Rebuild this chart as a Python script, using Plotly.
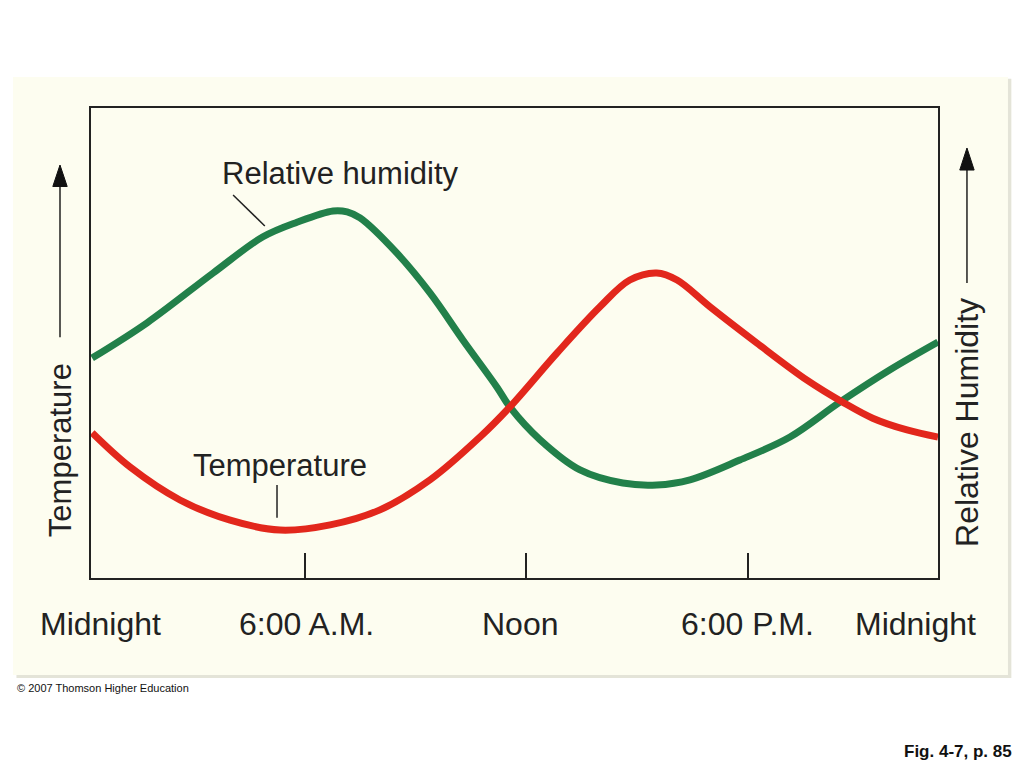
import plotly.graph_objects as go

# hours of the day (schematic axis) and values in arbitrary units 0-100
rh_hours = [0.23, 1.72, 3.51, 4.86, 5.78, 6.76, 7.14, 7.49, 8.49, 9.39, 10.28, 11.20,
            11.55, 12.37, 13.45, 14.61, 15.53, 16.43, 17.78, 19.14, 20.49, 21.85, 23.15]
rh_values = [46.8, 54.3, 64.9, 72.6, 75.7, 78.1, 77.9, 76.6, 69.1, 60.6, 50.6, 40.6,
             36.4, 29.4, 23.0, 20.2, 19.8, 20.9, 25.1, 30.0, 37.4, 44.3, 50.2]

temp_hours = [0.23, 1.26, 2.61, 3.97, 5.32, 6.68, 8.03, 9.39, 10.74, 11.55, 12.83,
              13.99, 14.80, 15.53, 16.08, 16.97, 18.24, 19.60, 20.57, 21.38, 22.31, 23.15]
temp_values = [30.9, 23.6, 16.6, 12.3, 10.2, 11.3, 14.5, 20.9, 30.0, 36.4, 47.9,
               57.7, 63.4, 64.9, 63.4, 57.7, 50.0, 42.1, 37.4, 34.0, 31.5, 30.0]

tick_hours = [6, 12, 18]
time_labels = ["Midnight", "6:00 A.M.", "Noon", "6:00 P.M.", "Midnight"]
label_hours = [0.45, 6.05, 11.85, 18.0, 22.55]

GREEN = "#22804a"
RED = "#e2271c"
CREAM = "#fdfdf0"
FONT = "Liberation Sans"
TXT = "#222222"

fig = go.Figure()
fig.add_trace(go.Scatter(x=rh_hours, y=rh_values, mode="lines", name="Relative humidity",
                         line=dict(color=GREEN, width=7, shape="spline", smoothing=1.0)))
fig.add_trace(go.Scatter(x=temp_hours, y=temp_values, mode="lines", name="Temperature",
                         line=dict(color=RED, width=7, shape="spline", smoothing=1.0)))

# cream panel with a faint shadow
fig.add_shape(type="rect", xref="paper", yref="paper", x0=-0.088, x1=1.0866, y0=-0.213, y1=1.062,
              fillcolor="#e4e4d8", line_width=0, layer="below")
fig.add_shape(type="rect", xref="paper", yref="paper", x0=-0.0921, x1=1.0826, y0=-0.2064, y1=1.066,
              fillcolor=CREAM, line_width=0, layer="below")

# leader lines for the curve labels
fig.add_shape(type="line", xref="x", yref="y", x0=4.05, y0=81.5, x1=4.91, y1=74.9,
              line=dict(color=TXT, width=1.5))
fig.add_shape(type="line", xref="x", yref="y", x0=5.24, y0=19.8, x1=5.24, y1=12.8,
              line=dict(color=TXT, width=1.5))


def up_arrow(x, y_tail, y_base, y_tip, half_w=0.0085):
    # thin shaft plus a narrow filled head, in paper coordinates
    fig.add_shape(type="line", xref="paper", yref="paper", x0=x, x1=x, y0=y_tail, y1=y_base,
                  line=dict(color="#111111", width=1.4))
    fig.add_shape(type="path", xref="paper", yref="paper",
                  path=f"M {x - half_w},{y_base} L {x + half_w},{y_base} L {x},{y_tip} Z",
                  fillcolor="#111111", line=dict(color="#111111", width=1))


up_arrow(-0.0366, 0.512, 0.833, 0.8787)
up_arrow(1.0342, 0.6277, 0.868, 0.9149)

ann = []
ann.append(dict(x=6.97, y=86.0, xref="x", yref="y", text="Relative humidity", showarrow=False,
                xanchor="center", yanchor="middle", font=dict(family=FONT, size=31, color=TXT)))
ann.append(dict(x=5.32, y=24.0, xref="x", yref="y", text="Temperature", showarrow=False,
                xanchor="center", yanchor="middle", font=dict(family=FONT, size=31, color=TXT)))

for lab, hx in zip(time_labels, label_hours):
    ann.append(dict(x=hx, y=-0.098, xref="x", yref="paper", text=lab, showarrow=False,
                    xanchor="center", yanchor="middle", font=dict(family=FONT, size=32, color=TXT)))

# axis titles
ann.append(dict(x=-0.0366, y=0.272, xref="paper", yref="paper", text="Temperature", textangle=-90,
                xanchor="center", yanchor="middle", showarrow=False,
                font=dict(family=FONT, size=31, color=TXT)))
ann.append(dict(x=1.0342, y=0.332, xref="paper", yref="paper", text="Relative Humidity", textangle=-90,
                xanchor="center", yanchor="middle", showarrow=False,
                font=dict(family=FONT, size=32, color=TXT)))

ann.append(dict(x=-0.0897, y=-0.234, xref="paper", yref="paper", text="© 2007 Thomson Higher Education",
                showarrow=False, xanchor="left", yanchor="middle",
                font=dict(family=FONT, size=11, color="#111111")))
ann.append(dict(x=1.09, y=-0.370, xref="paper", yref="paper", text="<b>Fig. 4-7, p. 85</b>",
                showarrow=False, xanchor="right", yanchor="middle",
                font=dict(family=FONT, size=17, color="#111111")))

# page body has an 8px margin, so the figure is a bit smaller than the window
fig.update_layout(
    width=1008, height=760,
    margin=dict(l=83, r=78, t=100, b=190),
    paper_bgcolor="white",
    plot_bgcolor=CREAM,
    showlegend=False,
    annotations=ann,
)
fig.update_xaxes(range=[0.2, 23.15], showline=True, mirror=True, linecolor=TXT, linewidth=1.5,
                 showgrid=False, zeroline=False, ticks="inside", tickvals=tick_hours,
                 ticklen=25, tickwidth=1.5, tickcolor=TXT, showticklabels=False)
fig.update_yaxes(range=[0, 100], showline=True, mirror=True, linecolor=TXT, linewidth=1.5,
                 showgrid=False, zeroline=False, showticklabels=False, ticks="")

fig.write_html("out.html")
